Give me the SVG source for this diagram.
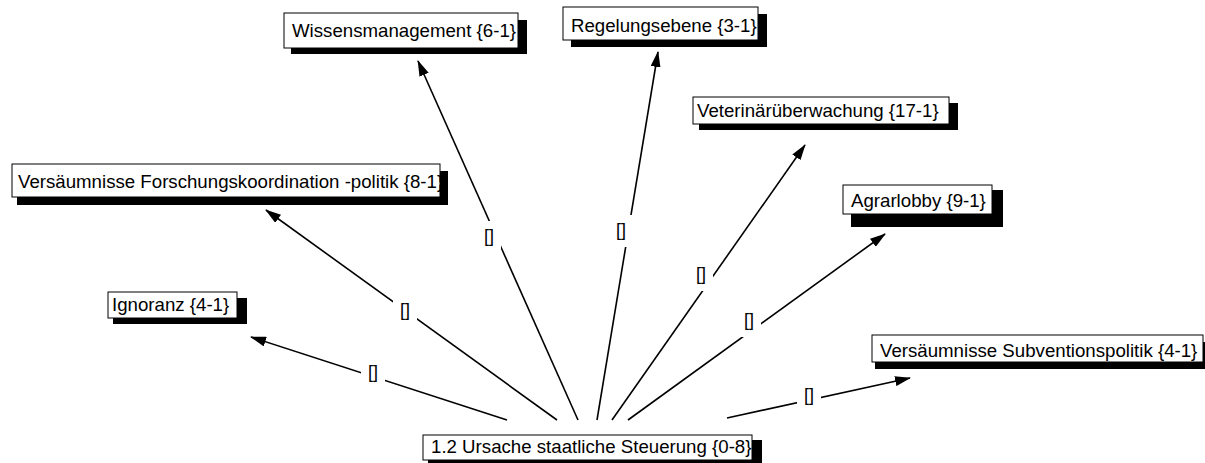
<svg xmlns="http://www.w3.org/2000/svg" width="1205" height="463" viewBox="0 0 1205 463">
  <defs>
    <style>
      .shadow { fill: #000; }
      .box { fill: #fff; stroke: #000; stroke-width: 1; }
      .lbl { font-family: "Liberation Sans", Arial, sans-serif; font-size: 18.67px; fill: #000; }
      .edge { stroke: #000; stroke-width: 1.6; fill: none; marker-end: url(#arrow); }
      .gap { fill: #fff; }
      .tag { font-family: "Liberation Sans", Arial, sans-serif; font-size: 18px; fill: #000; text-anchor: middle; }
    </style>
    <marker id="arrow" viewBox="0 0 16 10" markerWidth="16" markerHeight="10" refX="15" refY="5" orient="auto" markerUnits="userSpaceOnUse">
      <path d="M0,0 L16,5 L0,10 z" fill="#000"/>
    </marker>
    <clipPath id="c-wissen"><rect x="284" y="13" width="234" height="35"/></clipPath>
    <clipPath id="c-regel"><rect x="563" y="7" width="195" height="33"/></clipPath>
    <clipPath id="c-vet"><rect x="693" y="97" width="256" height="27"/></clipPath>
    <clipPath id="c-agrar"><rect x="843" y="185" width="149" height="29"/></clipPath>
    <clipPath id="c-forsch"><rect x="12" y="164" width="428" height="33"/></clipPath>
    <clipPath id="c-ignor"><rect x="108" y="292" width="129" height="26"/></clipPath>
    <clipPath id="c-subv"><rect x="872" y="335" width="331" height="27"/></clipPath>
    <clipPath id="c-center"><rect x="423" y="435" width="329" height="25"/></clipPath>
  </defs>

  <rect width="1205" height="463" fill="#fff"/>

  <!-- connectors: center node to each cause, with bracket tags midway -->
  <g id="connectors">
    <line class="edge" x1="507" y1="420" x2="251" y2="337"/>
    <line class="edge" x1="557" y1="420" x2="266" y2="210"/>
    <line class="edge" x1="578" y1="420" x2="418" y2="61"/>
    <line class="edge" x1="597" y1="420" x2="658" y2="52"/>
    <line class="edge" x1="612" y1="420" x2="805" y2="145"/>
    <line class="edge" x1="628" y1="420" x2="885" y2="234"/>
    <line class="edge" x1="727" y1="418" x2="910" y2="378"/>

    <rect class="gap" x="361" y="357" width="24" height="32"/>
    <rect class="gap" x="393" y="295" width="24" height="32"/>
    <rect class="gap" x="477" y="221" width="24" height="32"/>
    <rect class="gap" x="609" y="215" width="24" height="32"/>
    <rect class="gap" x="689" y="259" width="24" height="32"/>
    <rect class="gap" x="737" y="305" width="24" height="32"/>
    <rect class="gap" x="797" y="380" width="24" height="32"/>

    <text class="tag" x="373" y="378">[]</text>
    <text class="tag" x="405" y="316">[]</text>
    <text class="tag" x="489" y="242">[]</text>
    <text class="tag" x="621" y="236">[]</text>
    <text class="tag" x="701" y="280">[]</text>
    <text class="tag" x="749" y="326">[]</text>
    <text class="tag" x="809" y="401">[]</text>
  </g>

  <g id="node-wissensmanagement">
    <rect class="shadow" x="291" y="20" width="236" height="34"/>
    <rect class="box" x="284" y="13" width="234" height="35"/>
    <text class="lbl" x="292" y="37" clip-path="url(#c-wissen)">Wissensmanagement {6-1}</text>
  </g>

  <g id="node-regelungsebene">
    <rect class="shadow" x="571" y="14" width="196" height="33"/>
    <rect class="box" x="563" y="7" width="195" height="33"/>
    <text class="lbl" x="571" y="32" clip-path="url(#c-regel)">Regelungsebene {3-1}</text>
  </g>

  <g id="node-veterinaer">
    <rect class="shadow" x="699" y="103" width="259" height="27"/>
    <rect class="box" x="693" y="97" width="256" height="27"/>
    <text class="lbl" x="697" y="117" clip-path="url(#c-vet)">Veterinärüberwachung {17-1}</text>
  </g>

  <g id="node-agrarlobby">
    <rect class="shadow" x="851" y="190" width="152" height="37"/>
    <rect class="box" x="843" y="185" width="149" height="29"/>
    <text class="lbl" x="851" y="207" clip-path="url(#c-agrar)">Agrarlobby {9-1}</text>
  </g>

  <g id="node-forschung">
    <rect class="shadow" x="17" y="171" width="431" height="34"/>
    <rect class="box" x="12" y="164" width="428" height="33"/>
    <text class="lbl" x="18" y="188" clip-path="url(#c-forsch)">Versäumnisse Forschungskoordination -politik {8-1}</text>
  </g>

  <g id="node-ignoranz">
    <rect class="shadow" x="113" y="298" width="134" height="26"/>
    <rect class="box" x="108" y="292" width="129" height="26"/>
    <text class="lbl" x="112" y="311" clip-path="url(#c-ignor)">Ignoranz {4-1}</text>
  </g>

  <g id="node-subvention">
    <rect class="shadow" x="875" y="342" width="332" height="27"/>
    <rect class="box" x="872" y="335" width="331" height="27"/>
    <text class="lbl" x="880" y="357" clip-path="url(#c-subv)">Versäumnisse Subventionspolitik {4-1}</text>
  </g>

  <g id="node-center">
    <rect class="shadow" x="428" y="440" width="334" height="25"/>
    <rect class="box" x="423" y="435" width="329" height="25"/>
    <text class="lbl" x="431" y="453" clip-path="url(#c-center)">1.2 Ursache staatliche Steuerung {0-8}</text>
  </g>
</svg>
